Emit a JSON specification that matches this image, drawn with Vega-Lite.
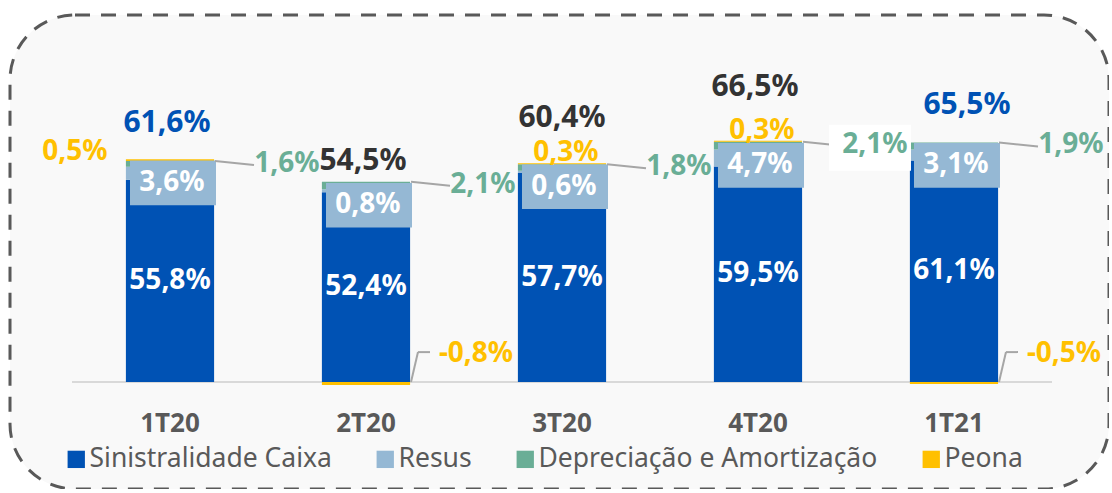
{
  "$schema": "https://vega.github.io/schema/vega-lite/v6.json",
  "width": 1099,
  "height": 474,
  "autosize": "none",
  "padding": {"left": 10, "top": 15, "right": 0, "bottom": 0},
  "background": "#ffffff",
  "config": {
    "font": "Noto Sans",
    "view": {"stroke": "#595959", "strokeWidth": 3, "strokeDash": [15, 11], "cornerRadius": 65, "fill": "#f9f9f9"},
    "text": {"font": "Noto Sans", "fontWeight": "bold", "fontSize": 28, "baseline": "middle", "align": "center"},
    "axisX": {"labelFontSize": 26, "labelFontWeight": "bold", "labelColor": "#595959", "labelAngle": 0, "domain": false, "ticks": false, "labelPadding": 0, "offset": -79, "labelBaseline": "top", "grid": false}
  },
  "data": {
    "values": [
      {"trimestre": "1T20", "sinistralidade": 55.8, "resus": 3.6, "depreciacao": 1.6, "peona": 0.5, "total": 61.6},
      {"trimestre": "2T20", "sinistralidade": 52.4, "resus": 0.8, "depreciacao": 2.1, "peona": -0.8, "total": 54.5},
      {"trimestre": "3T20", "sinistralidade": 57.7, "resus": 0.6, "depreciacao": 1.8, "peona": 0.3, "total": 60.4},
      {"trimestre": "4T20", "sinistralidade": 59.5, "resus": 4.7, "depreciacao": 2.1, "peona": 0.3, "total": 66.5},
      {"trimestre": "1T21", "sinistralidade": 61.1, "resus": 3.1, "depreciacao": 1.9, "peona": -0.5, "total": 65.5}
    ]
  },
  "transform": [
    {"calculate": "datum.sinistralidade / 2", "as": "meio"},
    {"calculate": "datum.sinistralidade + datum.resus", "as": "sr"},
    {"calculate": "datum.sr + datum.depreciacao", "as": "srd"},
    {"calculate": "datum.srd + max(datum.peona, 0)", "as": "topo"},
    {"calculate": "replace(replace(format(datum.sinistralidade, '.1f'), '.', ','), '\u2212', '-') + '%'", "as": "t_sin"},
    {"calculate": "replace(replace(format(datum.resus, '.1f'), '.', ','), '\u2212', '-') + '%'", "as": "t_resus"},
    {"calculate": "replace(replace(format(datum.depreciacao, '.1f'), '.', ','), '\u2212', '-') + '%'", "as": "t_dep"},
    {"calculate": "replace(replace(format(datum.peona, '.1f'), '.', ','), '\u2212', '-') + '%'", "as": "t_peona"},
    {"calculate": "replace(replace(format(datum.total, '.1f'), '.', ','), '\u2212', '-') + '%'", "as": "t_total"}
  ],
  "layer": [
    {
      "mark": {"type": "rule", "color": "#d9d9d9", "strokeWidth": 2, "xOffset": -98, "x2Offset": 98},
      "encoding": {
        "x": {"field": "trimestre", "type": "nominal", "bandPosition": 0.5, "title": null},
        "x2": {"field": "trimestre", "bandPosition": 0.5},
        "y": {"datum": 0, "type": "quantitative", "axis": null}
      }
    },
    {
      "transform": [
        {"fold": ["sinistralidade", "resus", "depreciacao", "peona"], "as": ["chave", "valor"]},
        {"calculate": "indexof(['sinistralidade','resus','depreciacao','peona'], datum.chave)", "as": "ordem"},
        {"calculate": "['Sinistralidade Caixa','Resus','Depreciação e Amortização','Peona'][datum.ordem]", "as": "serie"}
      ],
      "mark": {"type": "bar"},
      "encoding": {
        "x": {"field": "trimestre", "type": "nominal", "title": null,
              "scale": {"domain": ["1T20", "2T20", "3T20", "4T20", "1T21"], "paddingInner": 0.55, "paddingOuter": 0.5786, "align": 0.511}},
        "y": {"field": "valor", "type": "quantitative", "stack": "zero", "axis": null,
              "scale": {"domain": [-29.49, 101.27], "nice": false, "zero": false}},
        "color": {"field": "serie", "type": "nominal",
                  "scale": {"domain": ["Sinistralidade Caixa", "Resus", "Depreciação e Amortização", "Peona"],
                            "range": ["#0052b4", "#95b8d4", "#6aae96", "#ffc000"]},
                  "legend": {"orient": "none", "legendX": 53, "legendY": 431, "direction": "horizontal", "title": null,
                             "symbolType": "square", "symbolSize": 300, "symbolStrokeWidth": 0, "symbolOpacity": 1,
                             "labelFontSize": 26.5, "labelColor": "#595959", "labelOffset": 0, "columnPadding": 40,
                             "labelLimit": 0, "labelFont": "Noto Sans"}},
        "order": {"field": "ordem", "type": "quantitative"}
      }
    },
    {
      "mark": {"type": "text", "color": "#ffffff"},
      "encoding": {
        "x": {"field": "trimestre", "type": "nominal", "title": null},
        "y": {"field": "meio", "type": "quantitative", "axis": null},
        "text": {"field": "t_sin"}
      }
    },
    {
      "mark": {"type": "point", "shape": "M-1,-0.52H1V0.52H-1Z", "size": 7396, "filled": true, "color": "#95b8d4", "opacity": 1, "strokeWidth": 0, "xOffset": 3, "yOffset": 16},
      "encoding": {
        "x": {"field": "trimestre", "type": "nominal", "title": null},
        "y": {"field": "sr", "type": "quantitative", "axis": null}
      }
    },
    {
      "mark": {"type": "text", "color": "#ffffff", "dx": 2, "dy": 16},
      "encoding": {
        "x": {"field": "trimestre", "type": "nominal", "title": null},
        "y": {"field": "sr", "type": "quantitative", "axis": null},
        "text": {"field": "t_resus"}
      }
    },
    {
      "mark": {"type": "rule", "color": "#a6a6a6", "strokeWidth": 2, "xOffset": 45, "x2Offset": 84, "y2Offset": 4},
      "encoding": {
        "x": {"field": "trimestre", "type": "nominal", "bandPosition": 0.5, "title": null},
        "x2": {"field": "trimestre", "bandPosition": 0.5},
        "y": {"field": "srd", "type": "quantitative", "axis": null},
        "y2": {"field": "srd"}
      }
    },
    {
      "transform": [{"filter": "datum.trimestre == '4T20'"}],
      "mark": {"type": "point", "shape": "M-1,-0.56H1V0.56H-1Z", "size": 6724, "filled": true, "color": "#ffffff", "opacity": 1, "strokeWidth": 0, "xOffset": 112, "yOffset": 6},
      "encoding": {
        "x": {"field": "trimestre", "type": "nominal", "title": null},
        "y": {"field": "srd", "type": "quantitative", "axis": null}
      }
    },
    {
      "mark": {"type": "text", "color": "#6aae96", "dx": 117, "dy": 3},
      "encoding": {
        "x": {"field": "trimestre", "type": "nominal", "title": null},
        "y": {"field": "srd", "type": "quantitative", "axis": null},
        "text": {"field": "t_dep"}
      }
    },
    {
      "transform": [{"filter": "datum.peona > 0 && datum.trimestre != '1T20'"}],
      "mark": {"type": "text", "color": "#ffc000", "dx": 4, "dy": -10},
      "encoding": {
        "x": {"field": "trimestre", "type": "nominal", "title": null},
        "y": {"field": "topo", "type": "quantitative", "axis": null},
        "text": {"field": "t_peona"}
      }
    },
    {
      "transform": [{"filter": "datum.trimestre == '1T20'"}],
      "mark": {"type": "text", "color": "#ffc000", "dx": -95, "dy": -7},
      "encoding": {
        "x": {"field": "trimestre", "type": "nominal", "title": null},
        "y": {"field": "topo", "type": "quantitative", "axis": null},
        "text": {"field": "t_peona"}
      }
    },
    {
      "transform": [{"filter": "datum.peona < 0"}],
      "mark": {"type": "rule", "color": "#a6a6a6", "strokeWidth": 2, "xOffset": 45, "x2Offset": 52, "y2Offset": -30},
      "encoding": {
        "x": {"field": "trimestre", "type": "nominal", "bandPosition": 0.5, "title": null},
        "x2": {"field": "trimestre", "bandPosition": 0.5},
        "y": {"datum": 0, "type": "quantitative", "axis": null},
        "y2": {"datum": 0}
      }
    },
    {
      "transform": [{"filter": "datum.peona < 0"}],
      "mark": {"type": "rule", "color": "#a6a6a6", "strokeWidth": 2, "xOffset": 52, "x2Offset": 64, "yOffset": -30, "y2Offset": -30},
      "encoding": {
        "x": {"field": "trimestre", "type": "nominal", "bandPosition": 0.5, "title": null},
        "x2": {"field": "trimestre", "bandPosition": 0.5},
        "y": {"datum": 0, "type": "quantitative", "axis": null},
        "y2": {"datum": 0}
      }
    },
    {
      "transform": [{"filter": "datum.peona < 0"}],
      "mark": {"type": "text", "color": "#ffc000", "dx": 110, "dy": -28},
      "encoding": {
        "x": {"field": "trimestre", "type": "nominal", "title": null},
        "y": {"datum": 0, "type": "quantitative", "axis": null},
        "text": {"field": "t_peona"}
      }
    },
    {
      "transform": [{"filter": "datum.trimestre == '1T20'"}],
      "mark": {"type": "text", "color": "#0052b4", "fontSize": 30, "dx": -3, "dy": -36},
      "encoding": {
        "x": {"field": "trimestre", "type": "nominal", "title": null},
        "y": {"field": "total", "type": "quantitative", "axis": null},
        "text": {"field": "t_total"}
      }
    },
    {
      "transform": [{"filter": "datum.trimestre == '2T20'"}],
      "mark": {"type": "text", "color": "#333333", "fontSize": 30, "dx": -3, "dy": -24},
      "encoding": {
        "x": {"field": "trimestre", "type": "nominal", "title": null},
        "y": {"field": "total", "type": "quantitative", "axis": null},
        "text": {"field": "t_total"}
      }
    },
    {
      "transform": [{"filter": "datum.trimestre == '3T20'"}],
      "mark": {"type": "text", "color": "#333333", "fontSize": 30, "dx": 0, "dy": -45},
      "encoding": {
        "x": {"field": "trimestre", "type": "nominal", "title": null},
        "y": {"field": "total", "type": "quantitative", "axis": null},
        "text": {"field": "t_total"}
      }
    },
    {
      "transform": [{"filter": "datum.trimestre == '4T20'"}],
      "mark": {"type": "text", "color": "#333333", "fontSize": 30, "dx": -3, "dy": -54},
      "encoding": {
        "x": {"field": "trimestre", "type": "nominal", "title": null},
        "y": {"field": "total", "type": "quantitative", "axis": null},
        "text": {"field": "t_total"}
      }
    },
    {
      "transform": [{"filter": "datum.trimestre == '1T21'"}],
      "mark": {"type": "text", "color": "#0052b4", "fontSize": 30, "dx": 13, "dy": -40},
      "encoding": {
        "x": {"field": "trimestre", "type": "nominal", "title": null},
        "y": {"field": "total", "type": "quantitative", "axis": null},
        "text": {"field": "t_total"}
      }
    }
  ]
}
